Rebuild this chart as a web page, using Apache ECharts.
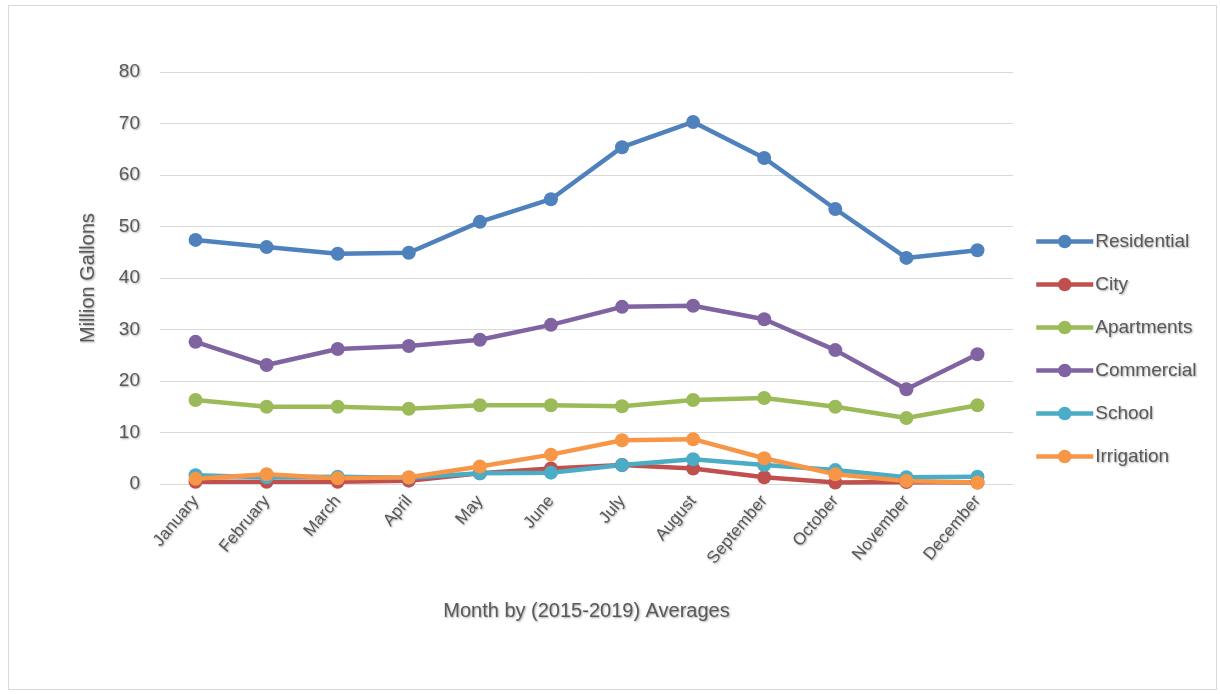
<!DOCTYPE html>
<html>
<head>
<meta charset="utf-8">
<script src="https://cdn.jsdelivr.net/npm/echarts@6/dist/echarts.min.js"></script>
<style>
  html, body { margin: 0; padding: 0; background: #ffffff; }
  #frame { position: absolute; left: 8px; top: 5px; width: 1209px; height: 685px; border: 1px solid #d9d9d9; box-sizing: border-box; }
  #chart { position: absolute; left: 0; top: 0; width: 1220px; height: 694px; }
</style>
</head>
<body>
<div id="frame"></div>
<div id="chart"></div>
<script>
// Monthly water use, million gallons (2015-2019 averages)
const months = ['January', 'February', 'March', 'April', 'May', 'June', 'July', 'August', 'September', 'October', 'November', 'December'];
const residential = [47.4, 46.0, 44.7, 44.9, 50.9, 55.3, 65.4, 70.3, 63.3, 53.4, 43.9, 45.4];
const city        = [0.45, 0.45, 0.45, 0.65, 2.1, 3.0, 3.7, 3.0, 1.3, 0.3, 0.4, 0.3];
const apartments  = [16.3, 15.0, 15.0, 14.6, 15.3, 15.3, 15.1, 16.3, 16.7, 15.0, 12.8, 15.3];
const commercial  = [27.6, 23.1, 26.2, 26.8, 28.0, 30.9, 34.4, 34.6, 32.0, 26.0, 18.4, 25.2];
const school      = [1.7, 1.3, 1.4, 1.2, 2.1, 2.2, 3.7, 4.8, 3.7, 2.7, 1.3, 1.4];
const irrigation  = [1.0, 1.9, 1.1, 1.3, 3.4, 5.7, 8.5, 8.7, 5.0, 1.9, 0.6, 0.3];
const yTicks = [0, 10, 20, 30, 40, 50, 60, 70, 80];

const seriesDefs = [
  ['Residential', residential, '#4F81BD'],
  ['City', city, '#C0504D'],
  ['Apartments', apartments, '#9BBB59'],
  ['Commercial', commercial, '#8064A2'],
  ['School', school, '#4BACC6'],
  ['Irrigation', irrigation, '#F79646']
];

const FONT = "'Liberation Sans', Arial, sans-serif";
const textShadow = { textShadowColor: 'rgba(0,0,0,0.35)', textShadowBlur: 2, textShadowOffsetX: 1, textShadowOffsetY: 1 };

const chart = echarts.init(document.getElementById('chart'), null, { renderer: 'canvas' });
chart.setOption({
  animation: false,
  backgroundColor: 'transparent',
  grid: { left: 160, right: 207, top: 72, bottom: 210, containLabel: false },
  legend: {
    orient: 'vertical',
    left: 1034,
    top: 232,
    padding: 0,
    itemWidth: 57,
    itemHeight: 17,
    itemGap: 24,
    lineStyle: { width: 4.5 },
    textStyle: Object.assign({ fontFamily: FONT, fontSize: 19, color: '#595959', padding: [0, 0, 0, -3] }, textShadow),
    data: seriesDefs.map(d => d[0])
  },
  xAxis: {
    type: 'category',
    data: months,
    boundaryGap: true,
    name: 'Month by (2015-2019) Averages',
    nameLocation: 'middle',
    nameGap: 117,
    nameTextStyle: Object.assign({ fontFamily: FONT, fontSize: 20, color: '#595959' }, textShadow),
    axisLine: { lineStyle: { color: '#d9d9d9', width: 1 } },
    axisTick: { show: false },
    axisLabel: Object.assign({ rotate: 50, fontFamily: FONT, fontSize: 17, color: '#595959', margin: 14, interval: 0 }, textShadow)
  },
  yAxis: {
    type: 'value',
    min: yTicks[0],
    max: yTicks[yTicks.length - 1],
    interval: 10,
    name: 'Million Gallons',
    nameLocation: 'middle',
    nameGap: 62,
    nameTextStyle: Object.assign({ fontFamily: FONT, fontSize: 20, color: '#595959' }, textShadow),
    axisLine: { show: false },
    axisTick: { show: false },
    splitLine: { lineStyle: { color: '#d9d9d9', width: 1 } },
    axisLabel: Object.assign({ fontFamily: FONT, fontSize: 19, color: '#595959', margin: 20 }, textShadow)
  },
  series: seriesDefs.map(([name, values, color]) => ({
    name: name,
    type: 'line',
    data: values,
    symbol: 'circle',
    symbolSize: 14,
    showAllSymbol: true,
    lineStyle: { color: color, width: 4.5 },
    itemStyle: { color: color },
    emphasis: { disabled: true }
  }))
});
</script>
</body>
</html>
